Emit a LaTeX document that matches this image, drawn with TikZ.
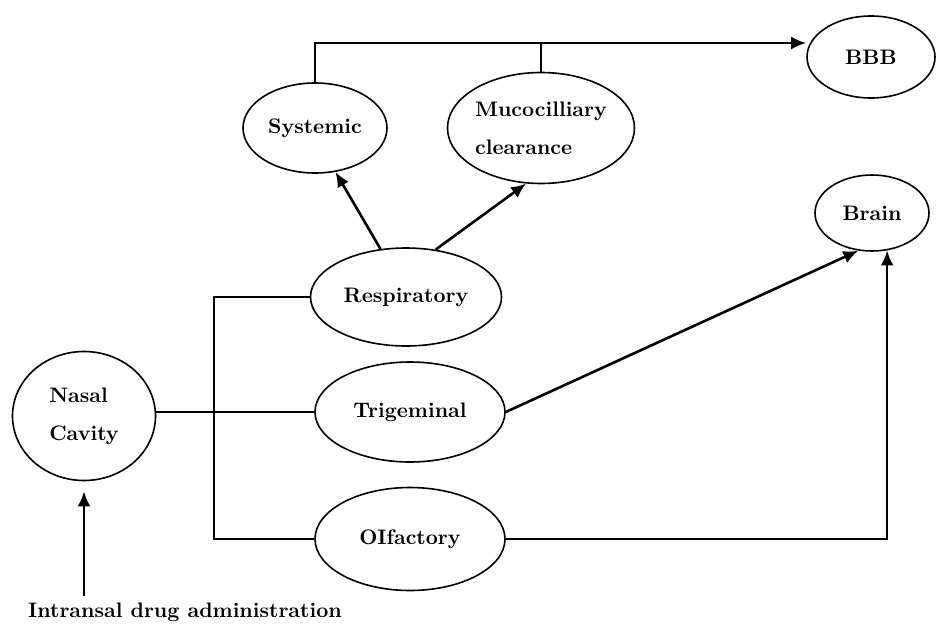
\documentclass[tikz,border=0pt]{standalone}
\usepackage{tikz}
\usetikzlibrary{arrows.meta,positioning,shapes}

\begin{document}
\begin{tikzpicture}[x=0.5pt,y=-0.5pt,
	basic/.style = {draw, ellipse, line width=0.8pt, inner sep=0pt, align=left,
		font=\fontsize{10.5}{19}\selectfont\bfseries},
	link/.style  = {line width=1.3pt},
	>={Latex[length=7.5pt,width=6.5pt]}]

	\useasboundingbox (0,0) rectangle (936,626);

	% Entry of the drug
	\node[basic, minimum width=71.5pt, minimum height=64.5pt] (nc) at (84,416) {Nasal\\Cavity};
	\node[font=\fontsize{10.5}{12}\selectfont\bfseries] (ia) at (185,612) {Intransal drug administration};

	% The three pathways
	\node[basic, minimum width=95.5pt, minimum height=49pt] (rs) at (406,297) {Respiratory};
	\node[basic, minimum width=95pt, minimum height=50pt] (tg) at (410,412) {Trigeminal};
	\node[basic, minimum width=95pt, minimum height=51.5pt] (of) at (410,539) {OIfactory};

	% Targets
	\node[basic, minimum width=72pt, minimum height=45pt] (sy) at (315,128) {Systemic};
	\node[basic, minimum width=93.5pt, minimum height=55.5pt] (mc) at (541,128) {Mucocilliary\\clearance};
	\node[basic, minimum width=64pt, minimum height=41pt] (bbb) at (871,57) {BBB};
	\node[basic, minimum width=57pt, minimum height=38pt] (br) at (872,213) {Brain};

	\coordinate (j) at (214,412);
	\coordinate (t) at (315,43);

	% Lines from the nasal cavity to every pathway
	\draw[link] (nc.east |- tg.west) -- (tg.west);
	\foreach \value in {rs,of}
	\draw[link] (\value.west) -| (j);

	\draw[link, ->, shorten >=5pt] (ia.north -| nc.south) -- (nc.south);

	% Respiratory route
	\draw[link, ->] (rs.118) -- (sy.295);
	\draw[link, ->] (rs.58) -- (mc.255);
	\draw[link] (mc.north) -- (mc.north |- t);
	\draw[link, ->] (sy.north) -- (sy.north |- t) -- (t -| bbb.west);

	% Direct routes to the brain
	\draw[link, ->] (tg.east) -- (br.250);
	\draw[link, ->] (of.east) -| (br.292);

\end{tikzpicture}
\end{document}
